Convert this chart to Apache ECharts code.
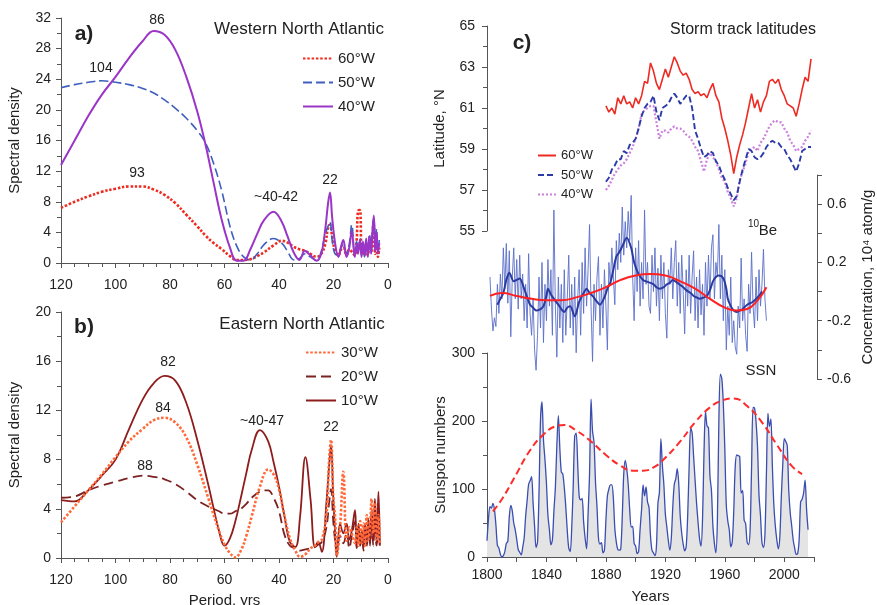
<!DOCTYPE html>
<html><head><meta charset="utf-8">
<script src="https://cdn.jsdelivr.net/npm/echarts@6/dist/echarts.min.js"></script>
<style>html,body{margin:0;padding:0;background:#fff}#c{width:877px;height:605px}</style>
</head><body><div id="c"></div>
<script>
// ---------- Panel a: Western North Atlantic spectra ----------
const periodsA = [120,115,110,105,100,95,90,86,82,78,74,70,67,64,61,58,55.5,53,50.5,48,45.5,42,39,37,34.5,32.5,30.5,28.5,26.2,24.5,23,22,21.3,20.5,19.5,18.2,17.2,16.4,15.2,14.2,13.3,12.2,11.5,11,10.3,9.7,9.2,8.6,8,7.4,6.8,6.2,5.7,5.2,4.7,4.2,3.7,3.2];
const a60 = [7.2,8.0,8.7,9.3,9.7,10.0,10.0,9.6,8.9,7.8,6.3,4.8,3.6,2.6,1.8,0.9,0.4,0.4,0.5,0.9,1.4,2.3,2.9,2.7,2.1,1.8,1.6,1.2,0.8,1.2,2.5,4.6,5.0,3.5,1.7,1.0,1.8,2.0,1.0,1.8,1.5,1.0,3.0,6.8,6.9,2.0,2.5,1.0,2.0,1.0,2.2,1.5,3.0,5.0,1.2,3.0,0.8,2.0];
const a50 = [22.9,23.3,23.6,23.8,23.6,23.3,22.8,22.2,21.3,20.2,18.9,17.3,15.7,13.0,9.4,4.8,2.2,0.8,0.4,1.2,2.4,3.2,2.6,1.6,0.4,0.6,1.2,0.8,0.3,1.5,3.8,4.8,5.4,3.0,1.2,1.0,2.0,2.4,1.2,2.5,5.0,1.0,2.8,1.5,3.2,1.0,2.5,0.8,2.8,1.2,3.8,1.5,4.5,6.0,2.0,4.5,1.5,3.0];
const a40 = [12.8,16.0,19.2,22.0,24.3,26.8,29.0,30.3,29.8,27.8,24.3,19.8,15.5,10.5,5.6,2.0,0.3,0.3,1.8,3.8,5.6,6.7,5.4,3.6,1.3,0.4,1.6,1.0,0.3,1.2,4.5,7.8,9.2,6.0,2.8,0.8,2.2,3.0,0.8,2.0,4.2,0.8,2.5,1.2,3.0,0.8,2.8,1.0,3.2,0.8,3.5,1.2,4.2,6.2,1.5,4.0,1.2,2.6];

// ---------- Panel b: Eastern North Atlantic spectra ----------
const periodsB = [120,115,110,105,100,95,90,86,82,78,74,70,66,62,60,58,56,54,52,50,47,44,42,40,38,36,34,32.3,30.3,28.4,26.8,25.6,24.3,22.6,21.6,20.9,20.1,19.4,18.8,17.6,16.4,15.2,14.2,13.3,12.1,11.5,10.8,10.2,9.6,9,8.4,7.8,7.2,6.6,6,5.4,4.8,4.2,3.5,3];
const b30 = [2.9,4.2,5.5,6.8,8.2,9.5,10.5,11.2,11.4,11.0,9.8,7.6,4.9,2.2,1.1,0.4,0.05,0.6,1.8,3.4,5.8,7.2,6.8,5.6,3.4,1.6,0.6,0.1,0.3,0.8,1.0,1.3,1.5,3.5,8.0,9.6,5.0,3.3,0.2,2.5,7.0,1.4,2.5,2.0,1.2,2.5,1.0,3.0,1.2,2.8,1.0,3.5,1.5,2.5,4.8,2.0,4.5,1.5,3.5,1.2];
const b20 = [4.9,5.0,5.5,5.9,6.2,6.5,6.7,6.6,6.4,6.0,5.4,4.7,4.2,3.8,3.6,3.6,3.8,4.0,4.4,4.9,5.4,5.5,4.9,3.8,1.9,1.0,0.8,0.6,0.7,0.8,0.9,1.1,1.3,2.5,4.5,5.6,3.0,1.4,0.5,1.8,1.2,2.0,0.8,1.8,3.0,0.8,2.0,1.0,2.2,0.6,2.5,1.0,2.5,1.2,3.5,1.0,3.2,1.0,2.5,0.8];
const b10 = [4.7,4.6,5.5,6.7,8.0,10.5,12.9,14.2,14.8,14.4,12.6,9.6,6.0,2.2,1.0,1.6,3.0,4.9,6.9,8.8,10.4,9.5,7.8,5.8,3.4,1.3,0.9,3.3,8.2,4.7,0.9,1.3,0.5,4.5,7.5,9.2,5.0,2.0,0.1,2.8,2.0,2.8,1.5,2.2,3.9,1.0,2.8,1.2,2.2,0.8,2.8,1.2,3.2,1.0,4.0,1.5,4.8,1.2,5.4,1.0];

// ---------- Panel c: storm track latitudes (every 2 years from 1880) ----------
const stormStart = 1880, stormStep = 2;
const st60 = [61.1,60.8,61.0,60.7,61.5,61.2,61.6,61.2,61.3,61.0,61.5,61.2,61.6,62.3,62.2,63.2,62.8,62.2,61.9,62.4,62.9,62.5,63.0,63.5,63.2,62.8,62.6,62.7,62.4,61.9,61.7,61.8,61.6,61.7,61.5,61.9,62.2,61.6,61.3,60.5,60.0,59.4,58.7,57.8,58.6,59.2,59.7,60.3,61.0,61.7,61.0,61.4,60.8,61.3,61.6,62.3,62.4,62.2,62.4,61.9,61.6,61.2,61.1,61.0,60.6,61.2,61.9,62.5,62.3,63.4];
const st50 = [57.4,57.6,58.0,58.2,58.5,58.5,58.9,58.8,59.2,59.3,59.5,60.0,60.6,61.0,61.2,61.3,61.6,60.8,60.4,61.0,61.1,61.2,61.5,61.7,61.5,61.2,61.4,61.6,61.6,61.0,59.9,59.5,59.0,58.6,58.7,58.9,58.8,58.4,58.2,57.8,57.5,57.1,56.8,56.5,56.7,57.4,58.0,58.5,59.0,58.9,58.6,58.5,58.6,58.8,59.1,59.3,59.4,59.3,59.3,59.1,59.0,58.7,58.5,58.2,57.9,58.3,58.9,59.0,59.1,59.1];
const st40 = [57.0,57.2,57.5,57.8,58.0,58.2,58.3,58.5,58.8,59.1,59.5,60.0,60.7,60.9,61.0,61.1,61.1,60.3,59.5,59.9,59.9,59.8,60.0,60.1,60.0,60.0,59.9,59.7,59.6,59.4,59.1,58.9,58.4,57.9,58.5,58.8,58.6,58.4,58.0,57.6,57.4,56.9,56.6,56.2,56.6,57.5,57.9,58.3,58.9,59.0,59.1,58.9,59.3,59.5,59.8,60.1,60.3,60.4,60.3,60.3,60.0,59.8,59.4,59.2,58.9,59.0,59.1,59.4,59.6,59.9];

// ---------- Panel c: 10Be concentration (annual from 1802) ----------
const beStart = 1802;
const beRaw = [0.10,-0.12,-0.27,-0.18,-0.24,0.05,-0.15,0.12,-0.05,0.30,0.02,0.33,-0.08,0.28,-0.31,0.10,0.30,-0.05,0.22,-0.12,0.25,-0.05,0.12,-0.20,0.05,-0.25,0.26,-0.15,-0.30,-0.05,-0.40,-0.54,-0.30,0.10,-0.25,0.20,-0.35,0.05,-0.20,0.22,-0.10,0.15,-0.30,0.56,-0.10,-0.45,0.10,-0.25,0.05,-0.35,0.15,-0.30,-0.05,0.25,-0.25,0.05,-0.30,0.10,-0.42,-0.05,0.15,-0.30,0.20,-0.15,0.30,-0.10,0.15,0.46,-0.10,-0.48,0.05,-0.20,0.10,0.24,-0.30,0.05,-0.25,0.15,-0.10,-0.40,0.20,0.05,0.30,0.10,-0.09,0.35,0.15,0.40,0.20,0.58,0.25,0.48,0.30,0.55,0.35,0.66,0.10,-0.20,0.30,0.00,0.35,-0.10,0.20,-0.05,0.56,0.05,0.20,-0.10,-0.15,0.25,0.00,0.30,-0.10,0.16,-0.20,0.25,-0.05,0.20,-0.15,-0.32,0.15,0.05,0.30,-0.05,0.20,0.35,-0.10,0.20,-0.15,0.25,0.00,-0.29,0.15,-0.10,0.25,-0.15,0.10,0.28,-0.20,0.10,-0.25,0.15,-0.16,0.05,-0.30,0.20,-0.10,0.25,-0.05,0.30,0.39,-0.05,0.20,0.10,0.46,-0.05,0.25,-0.20,0.15,-0.40,-0.10,-0.30,0.10,-0.35,-0.20,-0.38,-0.43,-0.10,-0.25,0.23,-0.20,-0.05,-0.30,-0.41,0.05,-0.15,0.27,-0.10,-0.25,0.10,-0.20,0.15,-0.10,0.05,0.29,-0.05,-0.20];
const beSmoothYears = [1807,1809,1811,1813,1815,1818,1820,1822,1825,1827,1829,1831,1833,1836,1838,1840,1841,1843,1845,1848,1850,1852,1854,1856,1859,1862,1865,1867,1869,1871,1874,1876,1879,1881,1883,1885,1887,1889,1891,1894,1897,1899,1902,1905,1907,1910,1912,1914,1916,1919,1921,1923,1925,1928,1930,1932,1934,1937,1939,1941,1943,1946,1948,1950,1952,1954,1956,1959,1961,1962,1964,1966,1968,1970,1972,1975,1977,1979,1981,1983,1985];
const beSmooth = [-0.09,-0.05,-0.01,0.08,0.13,0.07,0.08,0.09,0.02,-0.04,-0.09,-0.11,-0.13,-0.12,-0.10,-0.03,0.02,-0.02,-0.05,-0.09,-0.12,-0.14,-0.11,-0.10,-0.17,-0.07,-0.01,0.02,-0.01,-0.03,-0.07,-0.09,-0.04,0.02,0.06,0.15,0.24,0.27,0.31,0.37,0.30,0.20,0.12,0.08,0.07,0.06,0.05,0.03,0.02,0.03,0.05,0.06,0.08,0.06,0.045,0.03,0.01,-0.01,-0.03,-0.04,-0.05,-0.04,-0.03,0.01,0.07,0.10,0.11,0.09,0.02,-0.05,-0.10,-0.13,-0.14,-0.13,-0.12,-0.09,-0.08,-0.07,-0.05,-0.03,0.00];
const beTrendYears = [1802,1810,1820,1830,1840,1850,1860,1870,1880,1890,1900,1910,1920,1930,1940,1950,1960,1968,1975,1982,1988];
const beTrend = [-0.03,-0.01,-0.03,-0.05,-0.06,-0.06,-0.04,-0.01,0.03,0.08,0.11,0.12,0.11,0.07,0.02,-0.05,-0.11,-0.13,-0.12,-0.06,0.03];

// ---------- Panel c: sunspot numbers (annual from 1800) ----------
const ssnStart = 1800;
const ssn = [24,56,74,72,79,70,47,17,13,4,0,2,8,20,23,59,76,68,50,40,26,11,7,3,14,28,60,83,107,112,118,80,46,14,22,95,202,228,172,143,108,61,40,18,25,67,102,164,208,160,125,122,102,74,39,13,8,43,104,178,182,138,90,84,86,52,28,12,63,123,232,185,169,110,74,28,19,21,6,10,54,90,100,106,106,87,42,22,11,10,12,59,122,142,130,107,70,44,45,20,16,5,8,41,70,106,90,103,81,73,31,10,6,2,16,79,95,174,134,106,63,44,24,10,28,74,107,115,130,108,60,35,19,9,15,60,133,190,183,148,113,79,51,27,16,55,154,214,193,190,119,98,45,20,6,54,201,269,262,225,159,76,53,40,15,22,67,133,150,149,148,94,98,54,49,22,18,39,131,220,219,199,162,91,61,21,14,34,123,211,192,203,133,76,45,25,12,29,88,136,174,170,164,99,65,46,25,13,4,5,25,81,85,94,113,70,40];
const ssnEnvYears = [1804,1810,1818,1829,1838,1846,1852,1860,1870,1880,1890,1898,1905,1913,1920,1930,1940,1950,1958,1966,1975,1985,1995,2005,2012];
const ssnEnv = [67,85,115,157,180,192,194,186,170,150,134,127,127,133,146,170,198,220,230,233,222,198,165,134,122];

// ---------- build ----------
const FF = "'Liberation Sans', Arial, Helvetica, sans-serif";
const zip = (xs, ys) => xs.map((x, i) => [x, ys[i]]);
const seq = (start, step, arr) => arr.map((v, i) => [start + i * step, v]);
const strip = n => n.split(' ')[0];

function ax(extra, label, minor) {
  return Object.assign({
    type: 'value',
    axisLine: {show: true, onZero: false, lineStyle: {color: '#555', width: 1}},
    axisTick: {show: true, length: 5, lineStyle: {color: '#555', width: 1}},
    minorTick: {show: minor > 0, splitNumber: minor || 2, length: 4, lineStyle: {color: '#555', width: 1}},
    splitLine: {show: false}, minorSplitLine: {show: false},
    axisLabel: Object.assign({color: '#222', fontSize: 14, fontFamily: FF}, label || {}),
    nameTextStyle: {color: '#222', fontSize: 15, fontFamily: FF},
    nameMoveOverlap: false
  }, extra);
}
function line(name, xi, data, color, width, type, extra) {
  return Object.assign({
    type: 'line', name, xAxisIndex: xi, yAxisIndex: xi, data,
    symbol: 'none', showSymbol: false, animation: false,
    lineStyle: {color, width, type, cap: 'butt'}, itemStyle: {color}
  }, extra || {});
}
function T(text, x, y, size, bold) {
  return {type: 'text', x, y, z: 100, style: {
    text, fill: '#222', font: (bold ? 'bold ' : '') + size + 'px ' + FF,
    align: 'center', verticalAlign: 'middle', textAlign: 'center', textVerticalAlign: 'middle'}};
}
const beLabel = v => { const k = Math.round((v + 0.6) / 0.2); return (k % 2 === 0 && k < 7) ? v.toFixed(1) : ''; };
const legendBase = {orient: 'vertical', formatter: strip, selectedMode: false, itemStyle: {opacity: 0, borderWidth: 0}};

const option = {
  animation: false,
  backgroundColor: '#fff',
  grid: [
    {left: 61, top: 18, width: 327, height: 245, containLabel: false, outerBoundsMode: 'none'},
    {left: 61, top: 312, width: 327, height: 246, containLabel: false, outerBoundsMode: 'none'},
    {left: 487, top: 26, width: 327, height: 205, containLabel: false, outerBoundsMode: 'none'},
    {left: 487, top: 175, width: 327, height: 204, containLabel: false, outerBoundsMode: 'none'},
    {left: 487, top: 353, width: 327, height: 204, containLabel: false, outerBoundsMode: 'none'}
  ],
  xAxis: [
    ax({gridIndex: 0, min: 0, max: 120, interval: 20, inverse: true}, {margin: 15}, 4),
    ax({gridIndex: 1, min: 0, max: 120, interval: 20, inverse: true, name: 'Period, yrs', nameLocation: 'middle', nameGap: 35}, {margin: 15}, 4),
    {type: 'value', gridIndex: 2, min: 1800, max: 2020, show: false},
    {type: 'value', gridIndex: 3, min: 1800, max: 2020, show: false},
    ax({gridIndex: 4, min: 1800, max: 2020, interval: 20, name: 'Years', nameLocation: 'middle', nameGap: 32},
       {margin: 11, showMaxLabel: true, formatter: v => ((v - 1800) % 40 === 0 && v < 2020) ? String(v) : ''}, 0)
  ],
  yAxis: [
    ax({gridIndex: 0, min: 0, max: 32, interval: 4, name: 'Spectral density', nameLocation: 'middle', nameGap: 39, nameRotate: 90}, {margin: 10}, 2),
    ax({gridIndex: 1, min: 0, max: 20, interval: 4, name: 'Spectral density', nameLocation: 'middle', nameGap: 39, nameRotate: 90}, {margin: 10}, 2),
    ax({gridIndex: 2, min: 55, max: 65, interval: 2, name: 'Latitude, °N', nameLocation: 'middle', nameGap: 40, nameRotate: 90}, {margin: 12}, 2),
    ax({gridIndex: 3, min: -0.6, max: 0.8, interval: 0.2, position: 'right', offset: 3, name: 'Concentration, 10⁴ atom/g', nameLocation: 'middle', nameGap: 43, nameRotate: 90},
       {margin: 10, formatter: beLabel, showMaxLabel: true, showMinLabel: true}, 0),
    ax({gridIndex: 4, min: 0, max: 300, interval: 100, name: 'Sunspot numbers', nameLocation: 'middle', nameGap: 39, nameRotate: 90}, {margin: 12}, 2)
  ],
  legend: [
    Object.assign({}, legendBase, {data: ['60°W a', '50°W a', '40°W a'], left: 297, top: 46, itemWidth: 30, itemHeight: 14, itemGap: 9,
     textStyle: {fontSize: 15, color: '#222', fontFamily: FF}}),
    Object.assign({}, legendBase, {data: ['30°W b', '20°W b', '10°W b'], left: 300, top: 340, itemWidth: 30, itemHeight: 14, itemGap: 9,
     textStyle: {fontSize: 15, color: '#222', fontFamily: FF}}),
    Object.assign({}, legendBase, {data: ['60°W c', '50°W c', '40°W c'], left: 532, top: 144, itemWidth: 18, itemHeight: 12, itemGap: 6.5,
     textStyle: {fontSize: 13, color: '#222', fontFamily: FF}})
  ],
  graphic: [
    T('a)', 84, 34, 21, true), T('Western North Atlantic', 299, 29, 17),
    T('86', 157, 20, 14), T('104', 101, 68, 14), T('93', 137, 173, 14), T('~40-42', 276, 197, 14), T('22', 330, 180, 14),
    T('b)', 84, 327, 21, true), T('Eastern North Atlantic', 302, 324, 17),
    T('82', 168, 362, 14), T('84', 163, 408, 14), T('88', 145, 466, 14), T('~40-47', 262, 421, 14), T('22', 331, 427, 14),
    T('c)', 522, 43, 21, true), T('Storm track latitudes', 743, 30, 16),
    T('10', 753.5, 224, 10), T('Be', 768, 231, 15), T('SSN', 761, 371, 15)
  ],
  series: [
    line('60°W a', 0, zip(periodsA, a60), '#f02a1e', 2.6, [2.5, 1.8], {smooth: 0.4, z: 3}),
    line('50°W a', 0, zip(periodsA, a50), '#3f5fbf', 1.6, [9, 4], {smooth: 0.4, z: 4}),
    line('40°W a', 0, zip(periodsA, a40), '#9a35c8', 2, 'solid', {smooth: 0.4, z: 5}),
    line('20°W b', 1, zip(periodsB, b20), '#7d2222', 1.8, [10, 5], {smooth: 0.4, z: 3}),
    line('10°W b', 1, zip(periodsB, b10), '#8e1c1c', 1.8, 'solid', {smooth: 0.4, z: 4}),
    line('30°W b', 1, zip(periodsB, b30), '#ff6a3a', 2.6, [2.5, 1.8], {smooth: 0.4, z: 5}),
    line('60°W c', 2, seq(stormStart, stormStep, st60), '#ee2b22', 1.6, 'solid', {z: 5}),
    line('50°W c', 2, seq(stormStart, stormStep, st50), '#2b3aa8', 1.9, [6, 3], {z: 4}),
    line('40°W c', 2, seq(stormStart, stormStep, st40), '#cc80dd', 2.2, [2, 2], {z: 3}),
    line('10Be raw', 3, seq(beStart, 1, beRaw), '#5a6ec8', 0.9, 'solid', {z: 2}),
    line('10Be smooth', 3, zip(beSmoothYears, beSmooth), '#2a3a9e', 2, 'solid', {smooth: 0.3, z: 3}),
    line('10Be trend', 3, zip(beTrendYears, beTrend), '#ff2020', 2, 'solid', {smooth: true, z: 4}),
    line('SSN', 4, seq(ssnStart, 1, ssn), '#3a4db0', 1.3, 'solid', {smooth: 0.3, areaStyle: {color: '#e4e4e4', opacity: 1}, z: 2}),
    line('SSN env', 4, zip(ssnEnvYears, ssnEnv), '#ff2a2a', 2, [7, 4], {smooth: true, z: 3})
  ]
};
const chart = echarts.init(document.getElementById('c'), null, {renderer: 'canvas', width: 877, height: 605});
chart.setOption(option);
</script></body></html>
